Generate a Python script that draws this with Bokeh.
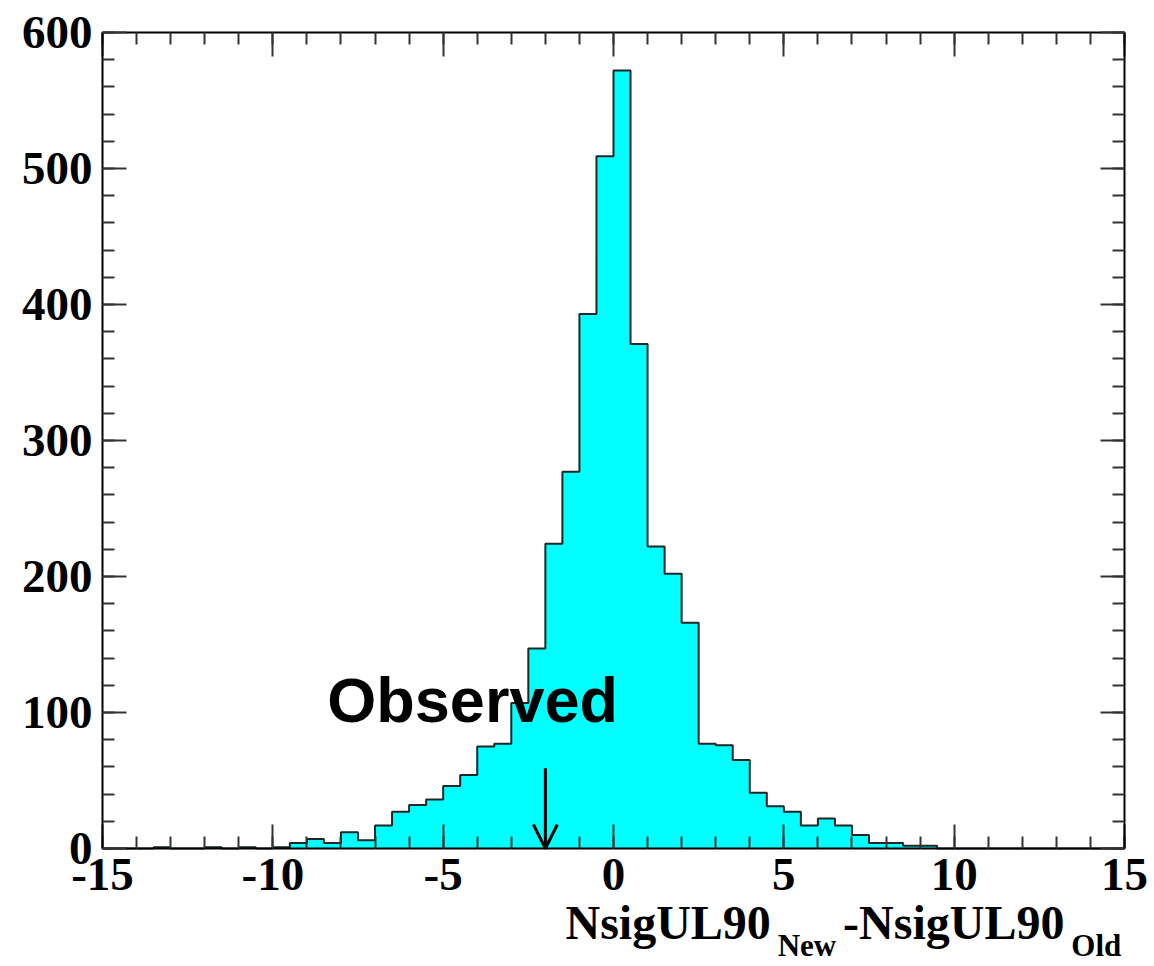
from bokeh.plotting import figure
from bokeh.models import (Range1d, SingleIntervalTicker, LinearAxis, Label,
                          Arrow, OpenHead, ColumnDataSource, CustomJSTickFormatter)
from bokeh.embed import file_html
from bokeh.resources import INLINE

# ---------------- data ----------------
bin_start = -15.0
bin_width = 0.5
counts_tail_left = [0, 0, 0, 1, 0, 0, 1, 0, 1, 0]                  # -15 .. -10.5
counts_left = [1, 4, 7, 4, 12, 6, 17, 27, 32, 36,
               46, 54, 75, 77, 107, 147, 224, 277, 393, 509]        # -10 .. -0.5
counts_right = [572, 371, 222, 202, 166, 77, 76, 65, 41, 31,
                27, 17, 22, 17, 10, 4, 4, 2, 2, 0]                  # 0 .. 9.5
counts_tail_right = [0, 0, 0, 0, 0, 0, 0, 0, 0, 0]                  # 10 .. 14.5
counts = counts_tail_left + counts_left + counts_right + counts_tail_right

x_min, x_max = -15, 15
y_max = 600
observed_value = -2.0
arrow_top = 59
x_major_ticks = 5
y_major_ticks = 100
x_title_main = ["NsigUL90", "-NsigUL90"]
x_title_sub = ["New", "Old"]

edges = [bin_start + i * bin_width for i in range(len(counts) + 1)]
src = ColumnDataSource(dict(left=edges[:-1], right=edges[1:],
                            top=counts, bottom=[0] * len(counts)))

# outline (envelope of the histogram, as ROOT draws it)
ox, oy = [edges[0]], [0]
for i, c in enumerate(counts):
    ox += [edges[i], edges[i + 1]]
    oy += [c, c]
ox.append(edges[-1]); oy.append(0)

# ---------------- layout geometry (pixels) ----------------
BOX_W, BOX_H = 1022, 816            # the 30 x 600 box
PAD_L, PAD_R, PAD_T, PAD_B = 102, 28, 32, 116
CANVAS_W = BOX_W + PAD_L + PAD_R
CANVAS_H = BOX_H + PAD_T + PAD_B
px_x = BOX_W / (x_max - x_min)
px_y = BOX_H / y_max
x_lo, x_hi = x_min - PAD_L / px_x, x_max + PAD_R / px_x
y_lo, y_hi = -PAD_B / px_y, y_max + PAD_T / px_y

p = figure(frame_width=CANVAS_W, frame_height=CANVAS_H,
           output_backend="svg", toolbar_location=None,
           x_range=Range1d(x_lo, x_hi), y_range=Range1d(y_lo, y_hi),
           min_border_left=0, min_border_right=0, min_border_top=0,
           min_border_bottom=0)
p.background_fill_color = "white"
p.border_fill_color = "white"
p.outline_line_color = None
p.xgrid.visible = False
p.ygrid.visible = False

p.quad(left="left", right="right", top="top", bottom="bottom", source=src,
       fill_color="#00FFFF", line_color="#00FFFF", line_width=1)
p.line(ox, oy, line_color="#262626", line_width=2)

tick_font = "Liberation Serif"


def style_axis(ax, show_labels, interval, bounds, loc):
    ax.ticker = SingleIntervalTicker(interval=interval, num_minor_ticks=5)
    ax.bounds = bounds
    ax.fixed_location = loc
    ax.axis_line_color = "black"
    ax.axis_line_width = 2
    ax.major_tick_in = 24
    ax.major_tick_out = 0
    ax.minor_tick_in = 12
    ax.minor_tick_out = 0
    ax.major_tick_line_color = "#333333"
    ax.minor_tick_line_color = "#333333"
    ax.major_tick_line_width = 2
    ax.minor_tick_line_width = 2
    if show_labels:
        ax.formatter = CustomJSTickFormatter(code="return String(tick);")
        ax.major_label_text_font = tick_font
        ax.major_label_text_font_style = "bold"
        ax.major_label_text_font_size = "47px"
        ax.major_label_text_color = "black"
        ax.major_label_standoff = 10
    else:
        ax.formatter = CustomJSTickFormatter(code="return '';")
        ax.major_label_standoff = 0


style_axis(p.xaxis[0], True, x_major_ticks, (x_min, x_max), 0)
style_axis(p.yaxis[0], True, y_major_ticks, (0, y_max), x_min)

top_ax = LinearAxis()
style_axis(top_ax, False, x_major_ticks, (x_min, x_max), y_max)
p.add_layout(top_ax, "above")
right_ax = LinearAxis()
style_axis(right_ax, False, y_major_ticks, (0, y_max), x_max)
p.add_layout(right_ax, "right")

# ---------------- annotations ----------------
p.add_layout(Arrow(end=OpenHead(size=24, line_width=3, line_color="black"),
                   x_start=observed_value, y_start=arrow_top,
                   x_end=observed_value, y_end=0,
                   line_width=3, line_color="black"))

p.add_layout(Label(x=-8.4, y=109, text="Observed", text_font="Liberation Sans",
                   text_font_style="bold", text_font_size="63px",
                   text_color="black", text_align="left",
                   text_baseline="alphabetic"))

title_parts = [
    (x_title_main[0], -1.41, -54.6, "48px"),
    (x_title_sub[0], 4.82, -71.2, "31px"),
    (x_title_main[1], 6.74, -54.6, "48px"),
    (x_title_sub[1], 13.44, -71.2, "31px"),
]
for txt, xx, yy, fs in title_parts:
    p.add_layout(Label(x=xx, y=yy, text=txt, text_font=tick_font,
                       text_font_style="bold", text_font_size=fs,
                       text_color="black", text_align="left",
                       text_baseline="alphabetic"))

open("out.html", "w").write(file_html(p, INLINE))
